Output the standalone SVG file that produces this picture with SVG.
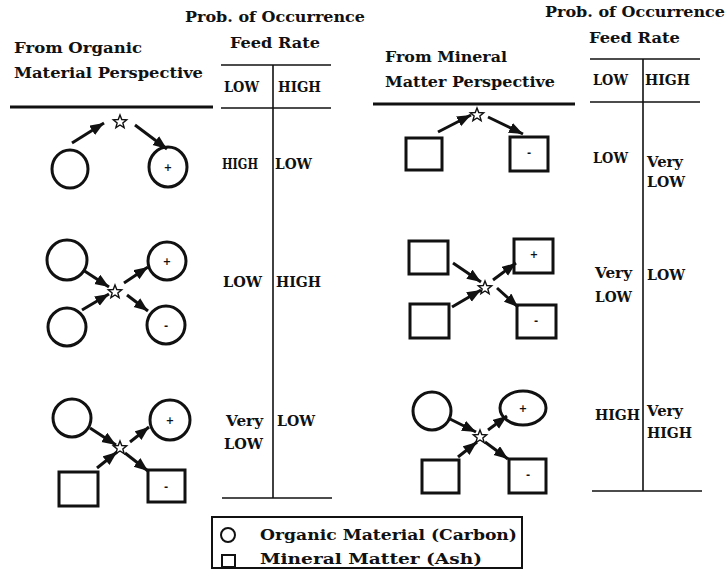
<svg xmlns="http://www.w3.org/2000/svg" width="727" height="579" viewBox="0 0 727 579">
  <style>
    text { font-family: "DejaVu Serif", "Liberation Serif", serif; font-weight: bold; fill: #111; }
    .hd { font-size: 15.5px; }
    .cell { font-size: 15px; }
    .sign { font-family: "DejaVu Sans", sans-serif; font-size: 10px; text-anchor: middle; fill: #111; }
    .lg { font-size: 15.5px; }
    .shape { fill: #fff; stroke: #111; stroke-width: 3; }
    .star { fill: #fff; stroke: #111; stroke-width: 1.4; stroke-linejoin: miter; }
    .rule { stroke: #111; stroke-width: 3; }
    .tbl { stroke: #111; stroke-width: 1.6; }
    .arrow { stroke: #111; stroke-width: 3; fill: none; marker-end: url(#head); }
  </style>
  <defs>
    <marker id="head" markerUnits="userSpaceOnUse" markerWidth="15" markerHeight="12" refX="14" refY="5.5" orient="auto">
      <path d="M0,0 L14,5.5 L0,11 Z" fill="#111"/>
    </marker>
    <path id="starShape" d="M0,-7 L1.76,-2.43 L6.66,-2.16 L2.85,0.93 L4.11,5.66 L0,3 L-4.11,5.66 L-2.85,0.93 L-6.66,-2.16 L-1.76,-2.43 Z"/>
  </defs>

  <!-- Left panel headings -->
  <g id="left-headings">
    <text class="hd" x="185" y="22" textLength="180" lengthAdjust="spacingAndGlyphs">Prob. of Occurrence</text>
    <text class="hd" x="230" y="48" textLength="90" lengthAdjust="spacingAndGlyphs">Feed Rate</text>
    <text class="hd" x="14" y="53" textLength="128" lengthAdjust="spacingAndGlyphs">From Organic</text>
    <text class="hd" x="14" y="78" textLength="189" lengthAdjust="spacingAndGlyphs">Material Perspective</text>
    <line class="rule" x1="10" y1="107" x2="213" y2="107"/>
  </g>

  <!-- Left probability table -->
  <g id="left-table">
    <line class="tbl" x1="221" y1="65" x2="331" y2="65"/>
    <line class="tbl" x1="221" y1="108" x2="331" y2="108"/>
    <line class="tbl" x1="273" y1="65" x2="273" y2="498"/>
    <line class="tbl" x1="222" y1="498" x2="332" y2="498"/>
    <text class="cell" x="224" y="92" textLength="35" lengthAdjust="spacingAndGlyphs">LOW</text>
    <text class="cell" x="278" y="92" textLength="43" lengthAdjust="spacingAndGlyphs">HIGH</text>
    <text class="cell" x="222" y="169" textLength="36" lengthAdjust="spacingAndGlyphs">HIGH</text>
    <text class="cell" x="275" y="169" textLength="37" lengthAdjust="spacingAndGlyphs">LOW</text>
    <text class="cell" x="223" y="287" textLength="39" lengthAdjust="spacingAndGlyphs">LOW</text>
    <text class="cell" x="276" y="287" textLength="45" lengthAdjust="spacingAndGlyphs">HIGH</text>
    <text class="cell" x="226" y="426" textLength="37" lengthAdjust="spacingAndGlyphs">Very</text>
    <text class="cell" x="224" y="449" textLength="39" lengthAdjust="spacingAndGlyphs">LOW</text>
    <text class="cell" x="277" y="426" textLength="38" lengthAdjust="spacingAndGlyphs">LOW</text>
  </g>

  <!-- Right panel headings -->
  <g id="right-headings">
    <text class="hd" x="545" y="17" textLength="180" lengthAdjust="spacingAndGlyphs">Prob. of Occurrence</text>
    <text class="hd" x="589" y="43" textLength="91" lengthAdjust="spacingAndGlyphs">Feed Rate</text>
    <text class="hd" x="385" y="62" textLength="122" lengthAdjust="spacingAndGlyphs">From Mineral</text>
    <text class="hd" x="385" y="87" textLength="170" lengthAdjust="spacingAndGlyphs">Matter Perspective</text>
    <line class="rule" x1="373" y1="104" x2="575" y2="104"/>
  </g>

  <!-- Right probability table -->
  <g id="right-table">
    <line class="tbl" x1="590" y1="59" x2="700" y2="59"/>
    <line class="tbl" x1="590" y1="102" x2="700" y2="102"/>
    <line class="tbl" x1="643" y1="59" x2="643" y2="491"/>
    <line class="tbl" x1="592" y1="491" x2="702" y2="491"/>
    <text class="cell" x="593" y="85" textLength="35" lengthAdjust="spacingAndGlyphs">LOW</text>
    <text class="cell" x="645" y="85" textLength="45" lengthAdjust="spacingAndGlyphs">HIGH</text>
    <text class="cell" x="593" y="163" textLength="35" lengthAdjust="spacingAndGlyphs">LOW</text>
    <text class="cell" x="647" y="167" textLength="36" lengthAdjust="spacingAndGlyphs">Very</text>
    <text class="cell" x="647" y="187" textLength="38" lengthAdjust="spacingAndGlyphs">LOW</text>
    <text class="cell" x="595" y="278" textLength="37" lengthAdjust="spacingAndGlyphs">Very</text>
    <text class="cell" x="595" y="302" textLength="37" lengthAdjust="spacingAndGlyphs">LOW</text>
    <text class="cell" x="647" y="280" textLength="38" lengthAdjust="spacingAndGlyphs">LOW</text>
    <text class="cell" x="595" y="420" textLength="45" lengthAdjust="spacingAndGlyphs">HIGH</text>
    <text class="cell" x="647" y="416" textLength="36" lengthAdjust="spacingAndGlyphs">Very</text>
    <text class="cell" x="647" y="438" textLength="45" lengthAdjust="spacingAndGlyphs">HIGH</text>
  </g>

  <!-- Organic perspective, row 1 -->
  <g id="o1-in"><ellipse class="shape" cx="70" cy="169" rx="18" ry="19"/></g>
  <g id="o1-star"><use href="#starShape" class="star" x="120" y="122"/></g>
  <g id="o1-out"><ellipse class="shape" cx="168" cy="167" rx="19" ry="20"/><text class="sign" x="168" y="171">+</text></g>

  <!-- Organic perspective, row 2 -->
  <g id="o2-in-a"><circle class="shape" cx="67" cy="260" r="20"/></g>
  <g id="o2-in-b"><circle class="shape" cx="67" cy="327" r="19"/></g>
  <g id="o2-star"><use href="#starShape" class="star" x="115" y="292"/></g>
  <g id="o2-out-pos"><circle class="shape" cx="167" cy="261" r="19"/><text class="sign" x="167" y="265">+</text></g>
  <g id="o2-out-neg"><circle class="shape" cx="166" cy="325" r="19"/><text class="sign" x="166" y="329">-</text></g>

  <!-- Organic perspective, row 3 -->
  <g id="o3-in-c"><circle class="shape" cx="72" cy="418" r="19"/></g>
  <g id="o3-in-m"><rect class="shape" x="59" y="472" width="39" height="34"/></g>
  <g id="o3-star"><use href="#starShape" class="star" x="120" y="448"/></g>
  <g id="o3-out-pos"><circle class="shape" cx="170" cy="420" r="20"/><text class="sign" x="170" y="424">+</text></g>
  <g id="o3-out-neg"><rect class="shape" x="148" y="470" width="37" height="32"/><text class="sign" x="166" y="490">-</text></g>

  <!-- Mineral perspective, row 1 -->
  <g id="m1-in"><rect class="shape" x="406" y="138" width="36" height="32"/></g>
  <g id="m1-star"><use href="#starShape" class="star" x="477" y="115"/></g>
  <g id="m1-out"><rect class="shape" x="510" y="137" width="38" height="34"/><text class="sign" x="529" y="156">-</text></g>

  <!-- Mineral perspective, row 2 -->
  <g id="m2-in-a"><rect class="shape" x="409" y="241" width="39" height="33"/></g>
  <g id="m2-in-b"><rect class="shape" x="410" y="304" width="39" height="34"/></g>
  <g id="m2-star"><use href="#starShape" class="star" x="485" y="288"/></g>
  <g id="m2-out-pos"><rect class="shape" x="514" y="239" width="39" height="34"/><text class="sign" x="534" y="258">+</text></g>
  <g id="m2-out-neg"><rect class="shape" x="517" y="305" width="39" height="33"/><text class="sign" x="536" y="324">-</text></g>

  <!-- Mineral perspective, row 3 -->
  <g id="m3-in-c"><circle class="shape" cx="432" cy="411" r="19"/></g>
  <g id="m3-in-m"><rect class="shape" x="422" y="460" width="37" height="33"/></g>
  <g id="m3-star"><use href="#starShape" class="star" x="480" y="437"/></g>
  <g id="m3-out-pos"><ellipse class="shape" cx="523" cy="408" rx="23" ry="17"/><text class="sign" x="523" y="412">+</text></g>
  <g id="m3-out-neg"><rect class="shape" x="509" y="459" width="37" height="34"/><text class="sign" x="528" y="478">-</text></g>

  <!-- Reaction arrows -->
  <g id="connectors">
    <line class="arrow" x1="72" y1="143" x2="104" y2="123"/>
    <line class="arrow" x1="135" y1="125" x2="167" y2="149"/>

    <line class="arrow" x1="83" y1="270" x2="109" y2="287"/>
    <line class="arrow" x1="82" y1="310" x2="109" y2="294"/>
    <line class="arrow" x1="124" y1="283" x2="148" y2="267"/>
    <line class="arrow" x1="127" y1="295" x2="148" y2="311"/>

    <line class="arrow" x1="90" y1="428" x2="116" y2="445"/>
    <line class="arrow" x1="97" y1="468" x2="117" y2="452"/>
    <line class="arrow" x1="130" y1="442" x2="149" y2="427"/>
    <line class="arrow" x1="125" y1="453" x2="148" y2="471"/>

    <line class="arrow" x1="438" y1="132" x2="471" y2="115"/>
    <line class="arrow" x1="488" y1="117" x2="523" y2="134"/>

    <line class="arrow" x1="453" y1="263" x2="481" y2="282"/>
    <line class="arrow" x1="452" y1="307" x2="481" y2="290"/>
    <line class="arrow" x1="493" y1="280" x2="516" y2="263"/>
    <line class="arrow" x1="497" y1="288" x2="518" y2="307"/>

    <line class="arrow" x1="448" y1="418" x2="476" y2="432"/>
    <line class="arrow" x1="458" y1="457" x2="477" y2="442"/>
    <line class="arrow" x1="488" y1="430" x2="507" y2="416"/>
    <line class="arrow" x1="485" y1="442" x2="508" y2="459"/>
  </g>

  <!-- Legend -->
  <g id="legend">
    <rect x="212" y="517" width="310" height="51" fill="#fff" stroke="#111" stroke-width="2"/>
    <circle cx="228" cy="535" r="7" fill="none" stroke="#111" stroke-width="2"/>
    <rect x="222" y="555" width="13" height="12" fill="none" stroke="#111" stroke-width="2"/>
    <text class="lg" x="260" y="540" textLength="257" lengthAdjust="spacingAndGlyphs">Organic Material (Carbon)</text>
    <text class="lg" x="260" y="564" textLength="222" lengthAdjust="spacingAndGlyphs">Mineral Matter (Ash)</text>
  </g>
</svg>
